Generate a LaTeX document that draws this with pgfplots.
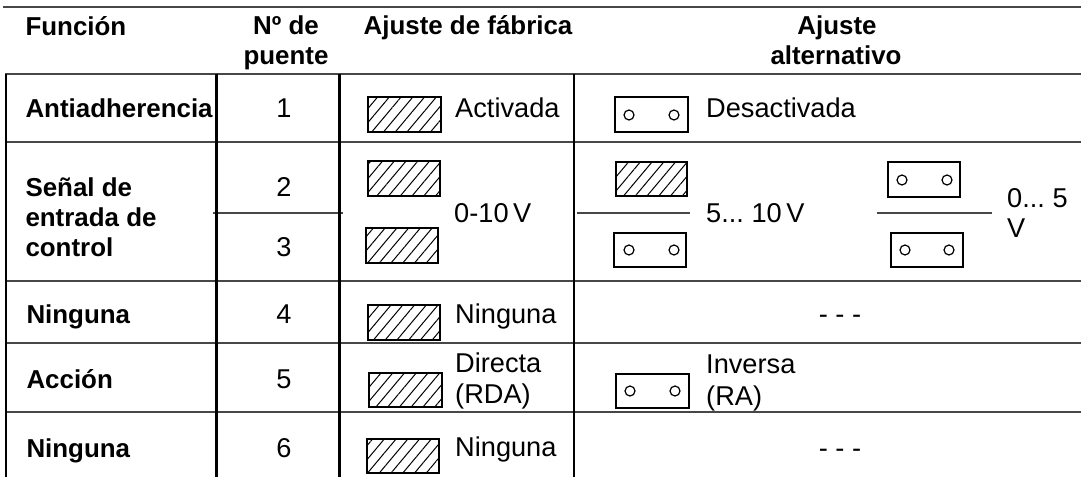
\documentclass[border=0pt]{standalone}
\usepackage{fontspec}
\setmainfont{Liberation Sans}
\usepackage{pgfplots}
\pgfplotsset{compat=1.18}
\usetikzlibrary{patterns.meta}
\newcommand\fb{\fontsize{26}{30}\selectfont\bfseries}
\newcommand\fr{\fontsize{27.3}{30}\selectfont}
\begin{document}
\begin{tikzpicture}
\begin{axis}[
  scale only axis, width=1081bp, height=477bp,
  xmin=0, xmax=1081, ymin=0, ymax=477, y dir=reverse,
  hide axis, clip=false,
  hl/.style={draw=black!72, line width=1.5bp, mark=none},
  vl/.style={draw=black, line width=2.2bp, mark=none},
  hb/.style={draw=black, line width=1.4bp, mark=none,
     pattern={Lines[angle=50,distance=9bp,line width=1bp]}},
  ob/.style={draw=black, line width=1.4bp, mark=none},
]
\coordinate (BL) at (axis cs:0,477);
\coordinate (TR) at (axis cs:1081,0);
% horizontal rules
\addplot[hl, line width=2.2bp] coordinates {(3,7) (1081,7)};
\addplot[hl, line width=1.8bp] coordinates {(5,74) (1081,74)};
\addplot[hl] coordinates {(5,142) (1081,142)};
\addplot[hl] coordinates {(213,213) (343,213)};
\addplot[hl] coordinates {(577,213) (690,213)};
\addplot[hl] coordinates {(877,213) (992,213)};
\addplot[hl] coordinates {(5,281) (1081,281)};
\addplot[hl] coordinates {(5,343) (1081,343)};
\addplot[hl] coordinates {(5,412) (1081,412)};
% vertical rules
\addplot[vl] coordinates {(6,74) (6,477)};
\addplot[vl] coordinates {(216.5,74) (216.5,477)};
\addplot[vl] coordinates {(339.5,74) (339.5,477)};
\addplot[vl] coordinates {(574,74) (574,477)};
% hatched (closed) jumpers
\addplot[hb] coordinates {(368,97) (441,97) (441,132) (368,132)} -- cycle;
\addplot[hb] coordinates {(368,161) (440,161) (440,196) (368,196)} -- cycle;
\addplot[hb] coordinates {(366,228) (438,228) (438,263) (366,263)} -- cycle;
\addplot[hb] coordinates {(616,162) (687,162) (687,196) (616,196)} -- cycle;
\addplot[hb] coordinates {(368,305) (440,305) (440,340) (368,340)} -- cycle;
\addplot[hb] coordinates {(369,373) (442,373) (442,407) (369,407)} -- cycle;
\addplot[hb] coordinates {(367,439) (439,439) (439,473) (367,473)} -- cycle;
% open jumpers
\addplot[ob] coordinates {(615,97) (688,97) (688,132) (615,132)} -- cycle;
\addplot[ob] coordinates {(614,233) (686,233) (686,267) (614,267)} -- cycle;
\addplot[ob] coordinates {(888,162) (960,162) (960,197) (888,197)} -- cycle;
\addplot[ob] coordinates {(891,233) (963,233) (963,267) (891,267)} -- cycle;
\addplot[ob] coordinates {(616,374) (689,374) (689,408) (616,408)} -- cycle;
\addplot[only marks, mark=*, mark size=5pt, mark options={draw=black, fill=white, line width=1.2bp}]
  coordinates {(629,115) (674,115) (629,250) (674,250) (902,180) (947,180) (905,250) (949,250) (630,391) (675,391)};
% header
\node[anchor=base west, font=\fb] at (axis cs:22,36) {Función};
\node[anchor=base, font=\fb] at (axis cs:286,35) {Nº de};
\node[anchor=base, font=\fb] at (axis cs:286,65) {puente};
\node[anchor=base, font=\fb] at (axis cs:468,35) {Ajuste de fábrica};
\node[anchor=base, font=\fb] at (axis cs:837,35) {Ajuste};
\node[anchor=base, font=\fb] at (axis cs:836,65) {alternativo};
% column 1
\node[anchor=base west, font=\fb] at (axis cs:22,118) {Antiadherencia};
\node[anchor=base west, font=\fb] at (axis cs:22,196) {Señal de};
\node[anchor=base west, font=\fb] at (axis cs:22,226) {entrada de};
\node[anchor=base west, font=\fb] at (axis cs:22,256) {control};
\node[anchor=base west, font=\fb] at (axis cs:23,323) {Ninguna};
\node[anchor=base west, font=\fb] at (axis cs:23,388) {Acción};
\node[anchor=base west, font=\fb] at (axis cs:23,457) {Ninguna};
% column 2
\node[anchor=base, font=\fr] at (axis cs:284,118) {1};
\node[anchor=base, font=\fr] at (axis cs:284,196) {2};
\node[anchor=base, font=\fr] at (axis cs:284,256) {3};
\node[anchor=base, font=\fr] at (axis cs:284,323) {4};
\node[anchor=base, font=\fr] at (axis cs:284,388) {5};
\node[anchor=base, font=\fr] at (axis cs:284,457) {6};
% column 3
\node[anchor=base west, font=\fr, inner sep=0pt] at (axis cs:455,118) {Activada};
\node[anchor=base west, font=\fr, inner sep=0pt] at (axis cs:454,222) {0-10\,V};
\node[anchor=base west, font=\fr, inner sep=0pt] at (axis cs:455,323) {Ninguna};
\node[anchor=base west, font=\fr, inner sep=0pt] at (axis cs:455,372) {Directa};
\node[anchor=base west, font=\fr, inner sep=0pt] at (axis cs:455,403) {(RDA)};
\node[anchor=base west, font=\fr, inner sep=0pt] at (axis cs:455,456) {Ninguna};
% column 4
\node[anchor=base west, font=\fr, inner sep=0pt] at (axis cs:706,118) {Desactivada};
\node[anchor=base west, font=\fr, inner sep=0pt] at (axis cs:706,222) {5...\ 10\,V};
\node[anchor=base west, font=\fr, inner sep=0pt] at (axis cs:1007,207) {0...\ 5};
\node[anchor=base west, font=\fr, inner sep=0pt] at (axis cs:1007,237) {V};
\node[anchor=base, font=\fr, inner sep=0pt] at (axis cs:840,323) {- - -};
\node[anchor=base west, font=\fr, inner sep=0pt] at (axis cs:706,373) {Inversa};
\node[anchor=base west, font=\fr, inner sep=0pt] at (axis cs:706,405) {(RA)};
\node[anchor=base, font=\fr, inner sep=0pt] at (axis cs:840,457) {- - -};
\end{axis}
\pgfresetboundingbox
\path (BL) rectangle (TR);
\end{tikzpicture}
\end{document}
